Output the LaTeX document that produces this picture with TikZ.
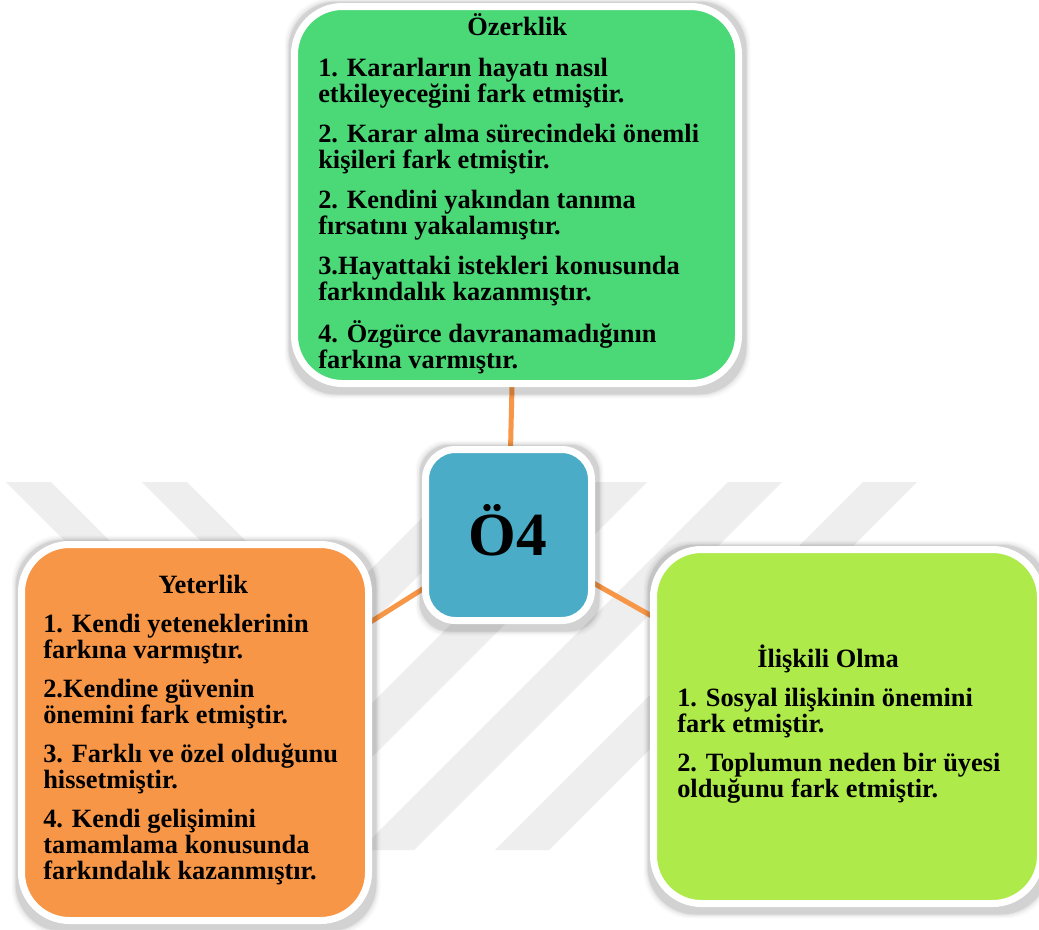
\documentclass[tikz,border=0pt]{standalone}
\usepackage{fontspec}
\setmainfont{Liberation Serif}
\usetikzlibrary{calc}

\definecolor{boxgreen}{RGB}{74,217,118}
\definecolor{boxlime}{RGB}{174,234,74}
\definecolor{boxorange}{RGB}{247,150,70}
\definecolor{boxteal}{RGB}{74,172,198}
\definecolor{linkorange}{RGB}{247,150,70}
\definecolor{stripegray}{RGB}{238,238,238}

\pgfdeclarelayer{watermark}
\pgfdeclarelayer{links}
\pgfdeclarelayer{shade}
\pgfsetlayers{watermark,links,shade,main}

\tikzset{
  card/.style={rectangle, draw=white, line width=5.25pt, rounded corners=36pt, inner sep=0pt},
  link/.style={draw=linkorange, line width=3.75pt},
  stripe/.style={fill=stripegray, draw=none},
  body/.style={anchor=base west, inner sep=0pt, text=black,
    font=\fontsize{19.8pt}{19.5pt}\selectfont\bfseries},
}

% soft shadow behind a card: #1 node name, #2 corner radius
\newcommand\cardshadow[2]{%
  \begin{pgfonlayer}{shade}
    \foreach \gr/\op in {7.5/0.025,6/0.035,4.5/0.05,3.5/0.07}{
      \fill[black, opacity=\op, rounded corners=#2]
        ($(#1.south west)+(-\gr+1,\gr+4)$) rectangle ($(#1.north east)+(\gr+1,-\gr+2)$);
    }
  \end{pgfonlayer}}

\begin{document}
\begin{tikzpicture}[x=0.75pt,y=-0.75pt]
\useasboundingbox (0,0) rectangle (1039,929);

% page background and watermark stripes
\begin{pgfonlayer}{watermark}
  \fill[white] (0,0) rectangle (1039,929);
  \foreach \a in {6,142}
    \fill[stripe] (\a,482) -- (\a+45,482) -- (\a+203,640) -- (\a+158,640) -- cycle;
  \foreach \a in {458,593,728,863}
    \fill[stripe] (\a,482) -- (\a+54,482) -- (\a-314,850) -- (\a-368,850) -- cycle;
\end{pgfonlayer}

% cards
\node[card, fill=boxgreen, minimum width=333pt, minimum height=282.75pt] (green) at (516.5,195) {};
\node[card, fill=boxteal, rounded corners=22.5pt, minimum width=124.5pt, minimum height=128.25pt] (hub) at (508.5,535) {};
\node[card, fill=boxorange, minimum width=260.25pt, minimum height=282pt] (orange) at (195,732.5) {};
\node[card, fill=boxlime, minimum width=290.25pt, minimum height=265.5pt] (lime) at (847,726.5) {};

\cardshadow{green}{36pt}
\cardshadow{hub}{22.5pt}
\cardshadow{orange}{36pt}
\cardshadow{lime}{36pt}

% connectors
\begin{pgfonlayer}{links}
  \draw[link] (green.center) -- (hub.center);
  \draw[link] (orange.center) -- (hub.center);
  \draw[link] (hub.center) -- (lime.center);
\end{pgfonlayer}

% texts
\node[anchor=base, inner sep=0pt, font=\fontsize{46pt}{46pt}\selectfont\bfseries] (hubtext) at (508,555) {Ö4};

\node[body] (greentext) at (318,35) {\parbox[t]{298.5pt}{\raggedright
\makebox[\linewidth]{Özerklik}\\[11.25pt]
1. Kararların hayatı nasıl\\
etkileyeceğini fark etmiştir.\\[10.5pt]
2. Karar alma sürecindeki önemli\\
kişileri fark etmiştir.\\[10.5pt]
2. Kendini yakından tanıma\\
fırsatını yakalamıştır.\\[10.5pt]
3.Hayattaki istekleri konusunda\\
farkındalık kazanmıştır.\\[10.5pt]
4. Özgürce davranamadığının\\
farkına varmıştır.}};

\node[body] (orangetext) at (43,593) {\parbox[t]{240pt}{\raggedright
\makebox[\linewidth]{Yeterlik}\\[9.75pt]
1. Kendi yeteneklerinin\\
farkına varmıştır.\\[9.75pt]
2.Kendine güvenin\\
önemini fark etmiştir.\\[9.75pt]
3. Farklı ve özel olduğunu\\
hissetmiştir.\\[9.75pt]
4. Kendi gelişimini\\
tamamlama konusunda\\
farkındalık kazanmıştır.}};

\node[body] (limetext) at (677,667) {\parbox[t]{270pt}{\raggedright
\hspace*{60pt}İlişkili Olma\\[9.75pt]
1. Sosyal ilişkinin önemini\\
fark etmiştir.\\[9.75pt]
2. Toplumun neden bir üyesi\\
olduğunu fark etmiştir.}};
\end{tikzpicture}
\end{document}
